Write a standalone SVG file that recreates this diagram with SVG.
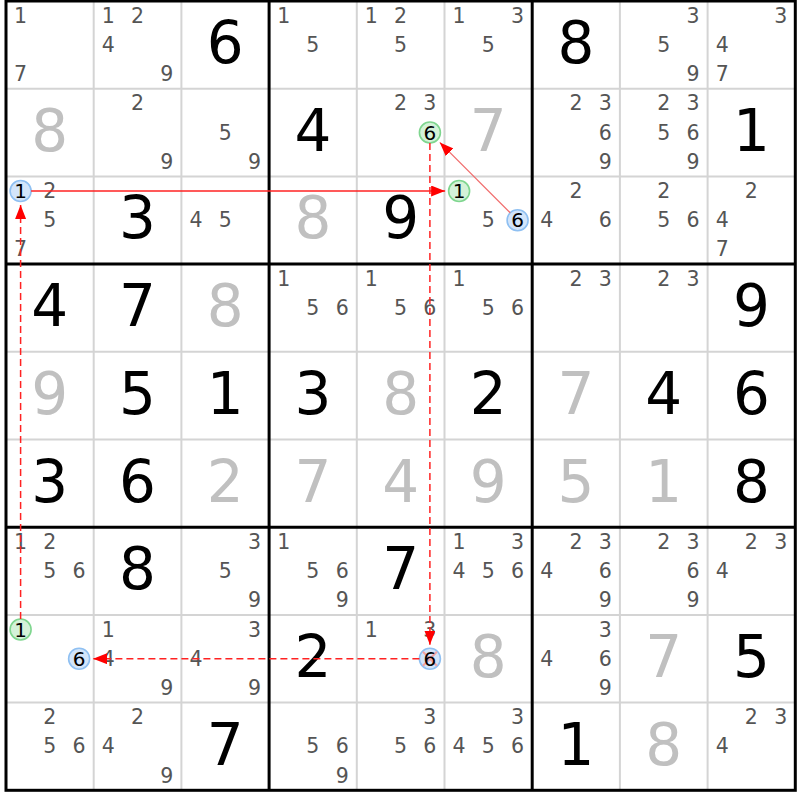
<svg xmlns="http://www.w3.org/2000/svg" width="800" height="800" viewBox="0 0 800 800">
<style>
text{font-family:"DejaVu Sans","Liberation Sans",sans-serif;text-anchor:middle}
.c{font-size:20.5px;fill:#555}
.k{font-size:20px;fill:#000}
.g{font-size:58px;fill:#000}
.s{font-size:58px;fill:#c0c0c0}
.thin{stroke:#d4d4d4;stroke-width:2}
.thick{stroke:#000;stroke-width:3}
.gc{fill:#d4f2d8;stroke:#7fd68f;stroke-width:1.6}
.bc{fill:#d3e5fa;stroke:#8fc0f2;stroke-width:1.6}
.x{stroke:#f2a2a2;stroke-width:2}
.lk{stroke:#f22;stroke-width:1.5;fill:none}
.dash{stroke-dasharray:7,4}
.weak{stroke:#f06a6a;stroke-width:1.3}
</style>
<defs>
<marker id="ah" markerUnits="userSpaceOnUse" markerWidth="14" markerHeight="11" refX="14" refY="5.5" orient="auto"><path d="M0,0 L14,5.5 L0,11 z" fill="#f00"/></marker>
</defs>
<rect width="800" height="800" fill="#fff"/>
<g id="grid">
<g class="thin">
<line x1="93.7" y1="1" x2="93.7" y2="790.3"/><line x1="181.4" y1="1" x2="181.4" y2="790.3"/>
<line x1="356.8" y1="1" x2="356.8" y2="790.3"/><line x1="444.5" y1="1" x2="444.5" y2="790.3"/>
<line x1="619.9" y1="1" x2="619.9" y2="790.3"/><line x1="707.6" y1="1" x2="707.6" y2="790.3"/>
<line x1="6" y1="88.7" x2="795.3" y2="88.7"/><line x1="6" y1="176.4" x2="795.3" y2="176.4"/>
<line x1="6" y1="351.8" x2="795.3" y2="351.8"/><line x1="6" y1="439.5" x2="795.3" y2="439.5"/>
<line x1="6" y1="614.9" x2="795.3" y2="614.9"/><line x1="6" y1="702.6" x2="795.3" y2="702.6"/>
</g>
<g class="thick">
<line x1="269.1" y1="1" x2="269.1" y2="790.3"/><line x1="532.2" y1="1" x2="532.2" y2="790.3"/>
<line x1="6" y1="264.1" x2="795.3" y2="264.1"/><line x1="6" y1="527.2" x2="795.3" y2="527.2"/>
<rect x="6" y="1" width="789.3" height="789.3" fill="none"/>
</g>
</g>
<g id="cells">
<!-- row 0 -->
<g id="r0c0" transform="translate(6,1)"><text class="c" x="14.6" y="21.7">1</text><text class="c" x="14.6" y="80.1">7</text></g>
<g id="r0c1" transform="translate(93.7,1)"><text class="c" x="14.6" y="21.7">1</text><text class="c" x="43.8" y="21.7">2</text><text class="c" x="14.6" y="50.9">4</text><text class="c" x="73.1" y="80.1">9</text></g>
<g id="r0c2" transform="translate(181.4,1)"><text class="g" x="43.8" y="62">6</text></g>
<g id="r0c3" transform="translate(269.1,1)"><text class="c" x="14.6" y="21.7">1</text><text class="c" x="43.8" y="50.9">5</text></g>
<g id="r0c4" transform="translate(356.8,1)"><text class="c" x="14.6" y="21.7">1</text><text class="c" x="43.8" y="21.7">2</text><text class="c" x="43.8" y="50.9">5</text></g>
<g id="r0c5" transform="translate(444.5,1)"><text class="c" x="14.6" y="21.7">1</text><text class="c" x="73.1" y="21.7">3</text><text class="c" x="43.8" y="50.9">5</text></g>
<g id="r0c6" transform="translate(532.2,1)"><text class="g" x="43.8" y="62">8</text></g>
<g id="r0c7" transform="translate(619.9,1)"><text class="c" x="73.1" y="21.7">3</text><text class="c" x="43.8" y="50.9">5</text><text class="c" x="73.1" y="80.1">9</text></g>
<g id="r0c8" transform="translate(707.6,1)"><text class="c" x="73.1" y="21.7">3</text><text class="c" x="14.6" y="50.9">4</text><text class="c" x="14.6" y="80.1">7</text></g>
<!-- row 1 -->
<g id="r1c0" transform="translate(6,88.7)"><text class="s" x="43.8" y="62">8</text></g>
<g id="r1c1" transform="translate(93.7,88.7)"><text class="c" x="43.8" y="21.7">2</text><text class="c" x="73.1" y="80.1">9</text></g>
<g id="r1c2" transform="translate(181.4,88.7)"><text class="c" x="43.8" y="50.9">5</text><text class="c" x="73.1" y="80.1">9</text></g>
<g id="r1c3" transform="translate(269.1,88.7)"><text class="g" x="43.8" y="62">4</text></g>
<g id="r1c4" transform="translate(356.8,88.7)"><text class="c" x="43.8" y="21.7">2</text><text class="c" x="73.1" y="21.7">3</text><circle class="gc" cx="73.1" cy="43.8" r="10.5"/><text class="k" x="73.1" y="50.9">6</text></g>
<g id="r1c5" transform="translate(444.5,88.7)"><text class="s" x="43.8" y="62">7</text></g>
<g id="r1c6" transform="translate(532.2,88.7)"><text class="c" x="43.8" y="21.7">2</text><text class="c" x="73.1" y="21.7">3</text><text class="c" x="73.1" y="50.9">6</text><text class="c" x="73.1" y="80.1">9</text></g>
<g id="r1c7" transform="translate(619.9,88.7)"><text class="c" x="43.8" y="21.7">2</text><text class="c" x="73.1" y="21.7">3</text><text class="c" x="43.8" y="50.9">5</text><text class="c" x="73.1" y="50.9">6</text><text class="c" x="73.1" y="80.1">9</text></g>
<g id="r1c8" transform="translate(707.6,88.7)"><text class="g" x="43.8" y="62">1</text></g>
<!-- row 2 -->
<g id="r2c0" transform="translate(6,176.4)"><circle class="bc" cx="14.6" cy="14.6" r="10.5"/><text class="k" x="14.6" y="21.7">1</text><text class="c" x="43.8" y="21.7">2</text><text class="c" x="43.8" y="50.9">5</text><text class="c" x="14.6" y="80.1">7</text></g>
<g id="r2c1" transform="translate(93.7,176.4)"><text class="g" x="43.8" y="62">3</text></g>
<g id="r2c2" transform="translate(181.4,176.4)"><text class="c" x="14.6" y="50.9">4</text><text class="c" x="43.8" y="50.9">5</text></g>
<g id="r2c3" transform="translate(269.1,176.4)"><text class="s" x="43.8" y="62">8</text></g>
<g id="r2c4" transform="translate(356.8,176.4)"><text class="g" x="43.8" y="62">9</text></g>
<g id="r2c5" transform="translate(444.5,176.4)"><circle class="gc" cx="14.6" cy="14.6" r="10.5"/><text class="k" x="14.6" y="21.7">1</text><text class="c" x="43.8" y="50.9">5</text><circle class="bc" cx="73.1" cy="43.8" r="10.5"/><text class="k" x="73.1" y="50.9">6</text></g>
<g id="r2c6" transform="translate(532.2,176.4)"><text class="c" x="43.8" y="21.7">2</text><text class="c" x="14.6" y="50.9">4</text><text class="c" x="73.1" y="50.9">6</text></g>
<g id="r2c7" transform="translate(619.9,176.4)"><text class="c" x="43.8" y="21.7">2</text><text class="c" x="43.8" y="50.9">5</text><text class="c" x="73.1" y="50.9">6</text></g>
<g id="r2c8" transform="translate(707.6,176.4)"><text class="c" x="43.8" y="21.7">2</text><text class="c" x="14.6" y="50.9">4</text><text class="c" x="14.6" y="80.1">7</text></g>
<!-- row 3 -->
<g id="r3c0" transform="translate(6,264.1)"><text class="g" x="43.8" y="62">4</text></g>
<g id="r3c1" transform="translate(93.7,264.1)"><text class="g" x="43.8" y="62">7</text></g>
<g id="r3c2" transform="translate(181.4,264.1)"><text class="s" x="43.8" y="62">8</text></g>
<g id="r3c3" transform="translate(269.1,264.1)"><text class="c" x="14.6" y="21.7">1</text><text class="c" x="43.8" y="50.9">5</text><text class="c" x="73.1" y="50.9">6</text></g>
<g id="r3c4" transform="translate(356.8,264.1)"><text class="c" x="14.6" y="21.7">1</text><text class="c" x="43.8" y="50.9">5</text><text class="c" x="73.1" y="50.9">6</text></g>
<g id="r3c5" transform="translate(444.5,264.1)"><text class="c" x="14.6" y="21.7">1</text><text class="c" x="43.8" y="50.9">5</text><text class="c" x="73.1" y="50.9">6</text></g>
<g id="r3c6" transform="translate(532.2,264.1)"><text class="c" x="43.8" y="21.7">2</text><text class="c" x="73.1" y="21.7">3</text></g>
<g id="r3c7" transform="translate(619.9,264.1)"><text class="c" x="43.8" y="21.7">2</text><text class="c" x="73.1" y="21.7">3</text></g>
<g id="r3c8" transform="translate(707.6,264.1)"><text class="g" x="43.8" y="62">9</text></g>
<!-- row 4 -->
<g id="r4c0" transform="translate(6,351.8)"><text class="s" x="43.8" y="62">9</text></g>
<g id="r4c1" transform="translate(93.7,351.8)"><text class="g" x="43.8" y="62">5</text></g>
<g id="r4c2" transform="translate(181.4,351.8)"><text class="g" x="43.8" y="62">1</text></g>
<g id="r4c3" transform="translate(269.1,351.8)"><text class="g" x="43.8" y="62">3</text></g>
<g id="r4c4" transform="translate(356.8,351.8)"><text class="s" x="43.8" y="62">8</text></g>
<g id="r4c5" transform="translate(444.5,351.8)"><text class="g" x="43.8" y="62">2</text></g>
<g id="r4c6" transform="translate(532.2,351.8)"><text class="s" x="43.8" y="62">7</text></g>
<g id="r4c7" transform="translate(619.9,351.8)"><text class="g" x="43.8" y="62">4</text></g>
<g id="r4c8" transform="translate(707.6,351.8)"><text class="g" x="43.8" y="62">6</text></g>
<!-- row 5 -->
<g id="r5c0" transform="translate(6,439.5)"><text class="g" x="43.8" y="62">3</text></g>
<g id="r5c1" transform="translate(93.7,439.5)"><text class="g" x="43.8" y="62">6</text></g>
<g id="r5c2" transform="translate(181.4,439.5)"><text class="s" x="43.8" y="62">2</text></g>
<g id="r5c3" transform="translate(269.1,439.5)"><text class="s" x="43.8" y="62">7</text></g>
<g id="r5c4" transform="translate(356.8,439.5)"><text class="s" x="43.8" y="62">4</text></g>
<g id="r5c5" transform="translate(444.5,439.5)"><text class="s" x="43.8" y="62">9</text></g>
<g id="r5c6" transform="translate(532.2,439.5)"><text class="s" x="43.8" y="62">5</text></g>
<g id="r5c7" transform="translate(619.9,439.5)"><text class="s" x="43.8" y="62">1</text></g>
<g id="r5c8" transform="translate(707.6,439.5)"><text class="g" x="43.8" y="62">8</text></g>
<!-- row 6 -->
<g id="r6c0" transform="translate(6,527.2)"><text class="c" x="14.6" y="21.7">1</text><text class="c" x="43.8" y="21.7">2</text><text class="c" x="43.8" y="50.9">5</text><text class="c" x="73.1" y="50.9">6</text></g>
<g id="r6c1" transform="translate(93.7,527.2)"><text class="g" x="43.8" y="62">8</text></g>
<g id="r6c2" transform="translate(181.4,527.2)"><text class="c" x="73.1" y="21.7">3</text><text class="c" x="43.8" y="50.9">5</text><text class="c" x="73.1" y="80.1">9</text></g>
<g id="r6c3" transform="translate(269.1,527.2)"><text class="c" x="14.6" y="21.7">1</text><text class="c" x="43.8" y="50.9">5</text><text class="c" x="73.1" y="50.9">6</text><text class="c" x="73.1" y="80.1">9</text></g>
<g id="r6c4" transform="translate(356.8,527.2)"><text class="g" x="43.8" y="62">7</text></g>
<g id="r6c5" transform="translate(444.5,527.2)"><text class="c" x="14.6" y="21.7">1</text><text class="c" x="73.1" y="21.7">3</text><text class="c" x="14.6" y="50.9">4</text><text class="c" x="43.8" y="50.9">5</text><text class="c" x="73.1" y="50.9">6</text></g>
<g id="r6c6" transform="translate(532.2,527.2)"><text class="c" x="43.8" y="21.7">2</text><text class="c" x="73.1" y="21.7">3</text><text class="c" x="14.6" y="50.9">4</text><text class="c" x="73.1" y="50.9">6</text><text class="c" x="73.1" y="80.1">9</text></g>
<g id="r6c7" transform="translate(619.9,527.2)"><text class="c" x="43.8" y="21.7">2</text><text class="c" x="73.1" y="21.7">3</text><text class="c" x="73.1" y="50.9">6</text><text class="c" x="73.1" y="80.1">9</text></g>
<g id="r6c8" transform="translate(707.6,527.2)"><text class="c" x="43.8" y="21.7">2</text><text class="c" x="73.1" y="21.7">3</text><text class="c" x="14.6" y="50.9">4</text></g>
<!-- row 7 -->
<g id="r7c0" transform="translate(6,614.9)"><circle class="gc" cx="14.6" cy="14.6" r="10.5"/><text class="k" x="14.6" y="21.7">1</text><circle class="bc" cx="73.1" cy="43.8" r="10.5"/><text class="k" x="73.1" y="50.9">6</text></g>
<g id="r7c1" transform="translate(93.7,614.9)"><text class="c" x="14.6" y="21.7">1</text><text class="c" x="14.6" y="50.9">4</text><text class="c" x="73.1" y="80.1">9</text></g>
<g id="r7c2" transform="translate(181.4,614.9)"><text class="c" x="73.1" y="21.7">3</text><text class="c" x="14.6" y="50.9">4</text><text class="c" x="73.1" y="80.1">9</text></g>
<g id="r7c3" transform="translate(269.1,614.9)"><text class="g" x="43.8" y="62">2</text></g>
<g id="r7c4" transform="translate(356.8,614.9)"><text class="c" x="14.6" y="21.7">1</text><text class="c" x="73.1" y="21.7">3</text><circle class="bc" cx="73.1" cy="43.8" r="10.5"/><line class="x" x1="66.1" y1="36.8" x2="80.1" y2="50.8"/><line class="x" x1="80.1" y1="36.8" x2="66.1" y2="50.8"/><text class="k" x="73.1" y="50.9">6</text></g>
<g id="r7c5" transform="translate(444.5,614.9)"><text class="s" x="43.8" y="62">8</text></g>
<g id="r7c6" transform="translate(532.2,614.9)"><text class="c" x="73.1" y="21.7">3</text><text class="c" x="14.6" y="50.9">4</text><text class="c" x="73.1" y="50.9">6</text><text class="c" x="73.1" y="80.1">9</text></g>
<g id="r7c7" transform="translate(619.9,614.9)"><text class="s" x="43.8" y="62">7</text></g>
<g id="r7c8" transform="translate(707.6,614.9)"><text class="g" x="43.8" y="62">5</text></g>
<!-- row 8 -->
<g id="r8c0" transform="translate(6,702.6)"><text class="c" x="43.8" y="21.7">2</text><text class="c" x="43.8" y="50.9">5</text><text class="c" x="73.1" y="50.9">6</text></g>
<g id="r8c1" transform="translate(93.7,702.6)"><text class="c" x="43.8" y="21.7">2</text><text class="c" x="14.6" y="50.9">4</text><text class="c" x="73.1" y="80.1">9</text></g>
<g id="r8c2" transform="translate(181.4,702.6)"><text class="g" x="43.8" y="62">7</text></g>
<g id="r8c3" transform="translate(269.1,702.6)"><text class="c" x="43.8" y="50.9">5</text><text class="c" x="73.1" y="50.9">6</text><text class="c" x="73.1" y="80.1">9</text></g>
<g id="r8c4" transform="translate(356.8,702.6)"><text class="c" x="73.1" y="21.7">3</text><text class="c" x="43.8" y="50.9">5</text><text class="c" x="73.1" y="50.9">6</text></g>
<g id="r8c5" transform="translate(444.5,702.6)"><text class="c" x="73.1" y="21.7">3</text><text class="c" x="14.6" y="50.9">4</text><text class="c" x="43.8" y="50.9">5</text><text class="c" x="73.1" y="50.9">6</text></g>
<g id="r8c6" transform="translate(532.2,702.6)"><text class="g" x="43.8" y="62">1</text></g>
<g id="r8c7" transform="translate(619.9,702.6)"><text class="s" x="43.8" y="62">8</text></g>
<g id="r8c8" transform="translate(707.6,702.6)"><text class="c" x="43.8" y="21.7">2</text><text class="c" x="73.1" y="21.7">3</text><text class="c" x="14.6" y="50.9">4</text></g>
</g>
<g id="connectors">
<line class="lk" x1="31.1" y1="191" x2="445.1" y2="191" marker-end="url(#ah)"/>
<line class="lk weak" x1="510.2" y1="212.8" x2="439.8" y2="142.4" marker-end="url(#ah)"/>
<line class="lk dash" x1="429.9" y1="143" x2="429.9" y2="644.7" marker-end="url(#ah)"/>
<line class="lk dash" x1="419.4" y1="658.7" x2="93.1" y2="658.7" marker-end="url(#ah)"/>
<line class="lk dash" x1="20.6" y1="619" x2="20.6" y2="205" marker-end="url(#ah)"/>
</g>
</svg>
